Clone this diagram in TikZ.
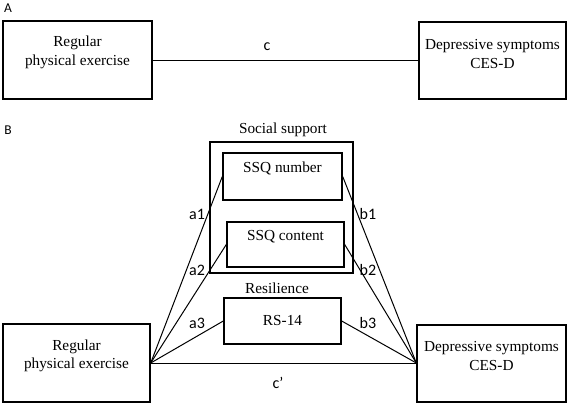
\documentclass[tikz,border=0pt]{standalone}
\usepackage{fontspec}
\setmainfont{Liberation Serif}
\newfontfamily\labfont{Carlito}
\begin{document}
\begin{tikzpicture}[x=1pt,y=-1pt,
  box/.style={draw,line width=1.4pt,inner sep=0pt,minimum width=#1},
  txt/.style={inner sep=0pt,align=center,font=\fontsize{15.3}{18.5}\selectfont},
  lab/.style={inner sep=0pt,font=\fontsize{16}{18}\selectfont\labfont},
  panel/.style={inner sep=0pt,font=\fontsize{13.5}{15}\selectfont\labfont},
  link/.style={line width=1pt}]
\useasboundingbox (0,0) rectangle (569,404);
% Panel A
\node[panel] (pA) at (8,8) {A};
\node[box=149pt,minimum height=78pt] (exA) at (77.5,60) {};
\node[txt] (exAt) at (77.5,52.5) {Regular\\physical exercise};
\node[box=147pt,minimum height=77pt] (depA) at (492.5,60.5) {};
\node[txt] (depAt) at (492.5,54) {Depressive symptoms\\CES-D};
\draw[link] (exA.east) -- (depA.west |- exA.east);
\node[lab] (c) at (267,47) {c};
% Panel B
\node[panel] (pB) at (8,130) {B};
\node[box=143pt,minimum height=131pt] (ss) at (281.5,207.5) {};
\node[txt] (sst) at (283,130) {Social support};
\node[box=119pt,minimum height=47pt] (num) at (282.5,176.5) {};
\node[txt] (numt) at (282.5,168) {SSQ number};
\node[box=117pt,minimum height=45pt] (con) at (285.5,244.5) {};
\node[txt] (cont) at (285.5,237) {SSQ content};
\node[txt] (rest) at (277,288) {Resilience};
\node[box=117pt,minimum height=46pt] (rs) at (282.5,321) {};
\node[txt] (rst) at (rs.center) {RS-14};
\node[box=147pt,minimum height=78pt] (exB) at (76.5,363) {};
\node[txt] (exBt) at (76.5,356) {Regular\\physical exercise};
\node[box=149pt,minimum height=77pt] (depB) at (491.5,363.5) {};
\node[txt] (depBt) at (491.5,356) {Depressive symptoms\\CES-D};
\coordinate (L) at (exB.east);
\coordinate (R) at (depB.west |- exB.east);
\draw[link] (L) -- (num.west);
\draw[link] (L) -- (con.west);
\draw[link] (L) -- (rs.west);
\draw[link] (num.east) -- (R);
\draw[link] (con.east) -- (R);
\draw[link] (rs.east) -- (R);
\draw[link] (L) -- (R);
\node[lab] (a1) at (197,214) {a1};
\node[lab] (a2) at (197,270) {a2};
\node[lab] (a3) at (197,323) {a3};
\node[lab] (b1) at (368,214) {b1};
\node[lab] (b2) at (368,270) {b2};
\node[lab] (b3) at (368,323) {b3};
\node[lab] (cp) at (278,383) {c’};
\end{tikzpicture}
\end{document}
